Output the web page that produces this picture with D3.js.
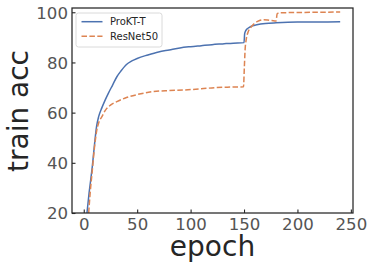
<!DOCTYPE html>
<html>
<head>
<meta charset="utf-8">
<script src="https://cdn.jsdelivr.net/npm/d3@7"></script>
<style>
  body { margin: 0; background: #fff; }
  text { font-family: "DejaVu Sans", sans-serif; }
</style>
</head>
<body>
<div id="chart"></div>
<script>
// values
var seriesNames = ["ProKT-T", "ResNet50"];
var proktEpoch = [3, 5, 8, 10, 12, 14, 17, 20, 23, 27, 31, 35, 40, 45, 50, 60, 70, 80, 90, 100, 110, 120, 130, 140, 150, 150.6, 151.5, 153, 155, 158, 162, 170, 180, 200, 220, 240];
var proktAcc   = [20, 28, 38.5, 47, 54.5, 58.5, 62, 65, 67.7, 71, 74.3, 76.7, 79.2, 80.6, 81.6, 83, 84.2, 85, 85.8, 86.3, 86.7, 87.1, 87.4, 87.7, 87.9, 91.5, 92.6, 93.4, 94, 94.6, 95, 95.5, 95.8, 96.1, 96.1, 96.2];
var resEpoch = [4.6, 6, 8, 10, 12, 14, 17, 20, 25, 31, 40, 50, 65, 80, 93, 110, 124, 140, 149.5, 150.3, 151, 152, 154, 157, 160, 164, 168, 172, 176, 180, 181, 183, 200, 220, 240];
var resAcc   = [20, 28, 37, 46, 52.5, 56, 58.4, 60.8, 63, 64.4, 66, 67.2, 68.4, 68.8, 69, 69.5, 70, 70.2, 70.3, 78, 85, 89, 92.3, 94.3, 95.6, 96.6, 97, 96.9, 96.7, 96.5, 99.4, 99.8, 99.9, 100, 100.1];
var xTicks = [0, 50, 100, 150, 200, 250];
var yTicks = [20, 40, 60, 80, 100];
var colors = ["#4C72B0", "#DD8452"];

var W = 374, H = 269;
var pLeft = 72, pRight = 353, pTop = 8, pBottom = 213;

var svg = d3.select("#chart").append("svg")
    .attr("width", W).attr("height", H);

var x = d3.scaleLinear().domain([-11, 252]).range([pLeft, pRight]);
var y = d3.scaleLinear().domain([20, 101.7]).range([pBottom, pTop]);

svg.append("clipPath").attr("id", "clip")
  .append("rect")
    .attr("x", pLeft).attr("y", pTop)
    .attr("width", pRight - pLeft).attr("height", pBottom - pTop);

var line = d3.line()
    .x(d => x(d[0]))
    .y(d => y(d[1]))
    .curve(d3.curveMonotoneX);

var series = [
    d3.zip(proktEpoch, proktAcc),
    d3.zip(resEpoch, resAcc)
];

svg.append("g").attr("clip-path", "url(#clip)")
  .selectAll("path")
  .data(series)
  .enter().append("path")
    .attr("d", line)
    .attr("fill", "none")
    .attr("stroke", (d, i) => colors[i])
    .attr("stroke-width", 1.5)
    .attr("stroke-dasharray", (d, i) => i == 1 ? "5.5,2.4" : null);

// frame
svg.append("rect")
    .attr("x", pLeft).attr("y", pTop)
    .attr("width", pRight - pLeft).attr("height", pBottom - pTop)
    .attr("fill", "none")
    .attr("stroke", "#262626")
    .attr("stroke-width", 1.25);

// inward ticks
var xAxis = svg.append("g").attr("transform", `translate(0,${pBottom})`)
    .call(d3.axisBottom(x).tickValues(xTicks).tickSize(-3.5).tickPadding(7));
var yAxis = svg.append("g").attr("transform", `translate(${pLeft},0)`)
    .call(d3.axisLeft(y).tickValues(yTicks).tickSize(-3.5).tickPadding(7));

[xAxis, yAxis].forEach(a => {
    a.select(".domain").remove();
    a.selectAll(".tick line").attr("stroke", "#262626").attr("stroke-width", 1.1);
    a.selectAll(".tick text")
        .attr("fill", "#555")
        .attr("font-size", 16.6)
        .style("font-family", "DejaVu Sans");
});
xAxis.selectAll(".tick text").attr("dy", null).attr("y", 16.5);
yAxis.selectAll(".tick text").attr("dy", "0.36em").attr("x", -4);

// axis labels
svg.append("text")
    .attr("x", (pLeft + pRight) / 2).attr("y", 256)
    .attr("text-anchor", "middle")
    .attr("font-size", 28)
    .attr("fill", "#262626")
    .text("epoch");

svg.append("text")
    .attr("transform", "translate(28,111) rotate(-90)")
    .attr("text-anchor", "middle")
    .attr("font-size", 28)
    .attr("fill", "#262626")
    .text("train acc");

// legend
var lg = svg.append("g");
lg.append("rect")
    .attr("x", 76).attr("y", 13)
    .attr("width", 86).attr("height", 34)
    .attr("rx", 2.5)
    .attr("fill", "#fff")
    .attr("fill-opacity", 0.8)
    .attr("stroke", "#d0d0d0")
    .attr("stroke-width", 0.8);
seriesNames.forEach((name, i) => {
    var ly = 21.7 + i * 14.5;
    lg.append("line")
        .attr("x1", 81.5).attr("x2", 102.5)
        .attr("y1", ly).attr("y2", ly)
        .attr("stroke", colors[i])
        .attr("stroke-width", 1.5)
        .attr("stroke-dasharray", i == 1 ? "5.5,2.4" : null);
    lg.append("text")
        .attr("x", 110).attr("y", ly)
        .attr("dy", "0.36em")
        .attr("font-size", 10)
        .attr("fill", "#262626")
        .text(name);
});
</script>
</body>
</html>
